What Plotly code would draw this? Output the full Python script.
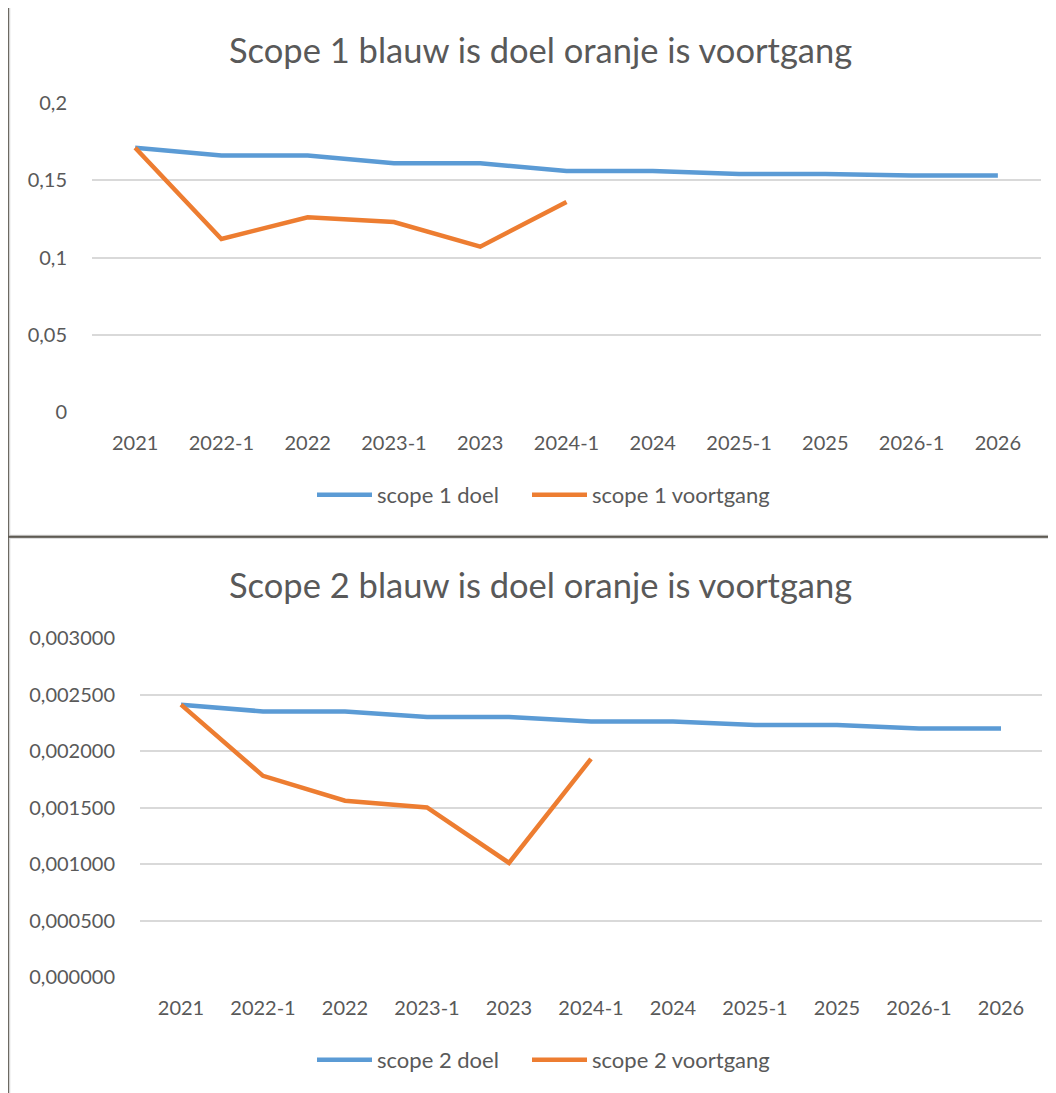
import plotly.graph_objects as go

# The page body adds an 8px margin, so the figure is drawn 8px smaller and
# all reference positions are shifted by that offset.
OFF = 8
W, H = 1056 - OFF, 1093 - OFF

categories = ["2021", "2022-1", "2022", "2023-1", "2023", "2024-1",
              "2024", "2025-1", "2025", "2026-1", "2026"]

scope1_doel = [0.171, 0.166, 0.166, 0.161, 0.161, 0.156, 0.156, 0.154, 0.154, 0.153, 0.153]
scope1_voortgang = [0.171, 0.112, 0.126, 0.123, 0.107, 0.136, None, None, None, None, None]

scope2_doel = [0.00241, 0.00235, 0.00235, 0.00230, 0.00230, 0.00226, 0.00226,
               0.00223, 0.00223, 0.00220, 0.00220]
scope2_voortgang = [0.00241, 0.00178, 0.00156, 0.00150, 0.00101, 0.00193,
                    None, None, None, None, None]

y1_tickvals = [0, 0.05, 0.1, 0.15, 0.2]
y1_ticktext = ["0", "0,05", "0,1", "0,15", "0,2"]
y2_tickvals = [0, 0.0005, 0.001, 0.0015, 0.002, 0.0025, 0.003]
y2_ticktext = ["0,000000", "0,000500", "0,001000", "0,001500",
               "0,002000", "0,002500", "0,003000"]

title1 = "Scope 1 blauw is doel oranje is voortgang"
title2 = "Scope 2 blauw is doel oranje is voortgang"

BLUE = "#5B9BD5"
ORANGE = "#ED7D31"
TXT = "#595959"
GRID = "#D9D9D9"
FONT = "Lato"


def px(x):
    return (x - OFF) / W


def py(y):
    return 1 - (y - OFF) / H


fig = go.Figure()

fig.add_trace(go.Scatter(x=categories, y=scope1_doel, name="scope 1 doel", mode="lines",
                         line=dict(color=BLUE, width=4.5), xaxis="x", yaxis="y", legend="legend"))
fig.add_trace(go.Scatter(x=categories, y=scope1_voortgang, name="scope 1 voortgang", mode="lines",
                         line=dict(color=ORANGE, width=4.5), xaxis="x", yaxis="y", legend="legend2"))
fig.add_trace(go.Scatter(x=categories, y=scope2_doel, name="scope 2 doel", mode="lines",
                         line=dict(color=BLUE, width=4.5), xaxis="x2", yaxis="y2", legend="legend3"))
fig.add_trace(go.Scatter(x=categories, y=scope2_voortgang, name="scope 2 voortgang", mode="lines",
                         line=dict(color=ORANGE, width=4.5), xaxis="x2", yaxis="y2", legend="legend4"))

tickfont = dict(family=FONT, size=20, color=TXT)

xcommon = dict(type="category", range=[-0.5, 10.5], showgrid=False, zeroline=False,
               showline=False, ticks="", tickfont=tickfont, ticklabelstandoff=17,
               fixedrange=True, automargin=False)
ycommon = dict(showgrid=True, gridcolor=GRID, gridwidth=1.5, zeroline=False, showline=False,
               ticks="", tickfont=tickfont, ticklabelstandoff=24, fixedrange=True,
               automargin=False)

legfont = dict(family=FONT, size=22, color=TXT)


def leg(x, y):
    return dict(orientation="h", x=px(x), y=py(y), xanchor="left", yanchor="middle",
                font=legfont, bgcolor="rgba(0,0,0,0)", itemwidth=55,
                itemclick=False, itemdoubleclick=False)


fig.update_layout(
    width=W, height=H,
    margin=dict(l=0, r=0, t=0, b=0, pad=0, autoexpand=False),
    paper_bgcolor="#4a463d",
    plot_bgcolor="rgba(0,0,0,0)",
    font=dict(family=FONT, color=TXT),
    xaxis=dict(xcommon, domain=[px(92), px(1041)], anchor="y"),
    yaxis=dict(ycommon, domain=[py(412), py(103)], range=[0, 0.2],
               tickvals=y1_tickvals, ticktext=y1_ticktext, anchor="x"),
    xaxis2=dict(xcommon, domain=[px(140), px(1042)], anchor="y2"),
    yaxis2=dict(ycommon, domain=[py(977), py(638)], range=[0, 0.003],
                tickvals=y2_tickvals, ticktext=y2_ticktext, anchor="x2"),
    legend=leg(312, 495),
    legend2=leg(527, 495),
    legend3=leg(312, 1060),
    legend4=leg(527, 1060),
    showlegend=True,
)

shapes = [
    # chart panels
    dict(type="rect", xref="paper", yref="paper", x0=px(9.5), x1=1.02, y0=py(535.5), y1=1.02,
         fillcolor="white", line=dict(color="#d4d4d4", width=1.5), layer="below"),
    dict(type="rect", xref="paper", yref="paper", x0=px(9.5), x1=1.02, y0=-0.02, y1=py(538),
         fillcolor="white", line=dict(color="#d4d4d4", width=1.5), layer="below"),
    dict(type="line", xref="paper", yref="paper", x0=0, x1=1, y0=py(536.8), y1=py(536.8),
         line=dict(color="#5e5a52", width=2), layer="below"),
]
fig.update_layout(shapes=shapes)

fig.update_layout(annotations=[
    dict(text=title1, xref="paper", yref="paper", x=px(540), y=py(50), xanchor="center",
         yanchor="middle", showarrow=False, font=dict(family=FONT, size=34.5, color=TXT)),
    dict(text=title2, xref="paper", yref="paper", x=px(540), y=py(584), xanchor="center",
         yanchor="middle", showarrow=False, font=dict(family=FONT, size=34.5, color=TXT)),
])

fig.write_html("out.html")
